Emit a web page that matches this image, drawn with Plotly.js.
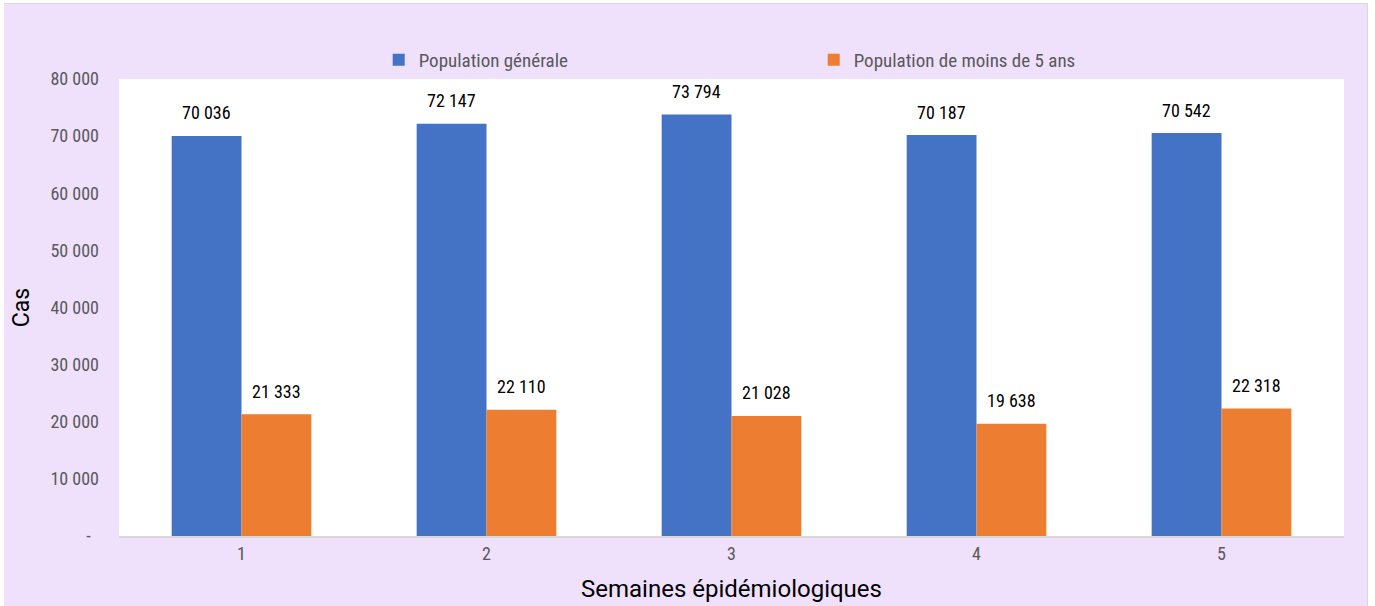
<!DOCTYPE html>
<html>
<head>
<meta charset="utf-8">
<script src="https://cdn.plot.ly/plotly-3.0.1.min.js"></script>
<style>
html,body{margin:0;padding:0;background:#ffffff;}
#wrap{position:absolute;left:4px;top:3px;width:1364px;height:603px;border-top:1px solid #d9d9d9;border-right:1px solid #d9d9d9;box-sizing:border-box;}
#chart{width:1363px;height:602px;}
</style>
</head>
<body>
<div id="wrap"><div id="chart"></div></div>
<script>
const categories = ["1", "2", "3", "4", "5"];
const seriesNames = ["Population générale", "Population de moins de 5 ans"];
const generale = [70036, 72147, 73794, 70187, 70542];
const moins5 = [21333, 22110, 21028, 19638, 22318];
const yTickVals = [0, 10000, 20000, 30000, 40000, 50000, 60000, 70000, 80000];

const FONT = "'Roboto Condensed', 'Liberation Sans Narrow', 'Arial Narrow', Roboto, sans-serif";
function fmt(v){ return v === 0 ? "-\u00a0\u00a0" : String(v).replace(/\B(?=(\d{3})+(?!\d))/g, " "); }
const yTickText = yTickVals.map(fmt);

const traces = [
  {type:'bar', name: seriesNames[0], x: categories, y: generale, marker:{color:'#4472C4'}, hoverinfo:'none'},
  {type:'bar', name: seriesNames[1], x: categories, y: moins5, marker:{color:'#ED7D31'}, hoverinfo:'none'}
];

const annotations = [];
[generale, moins5].forEach((arr, si) => {
  arr.forEach((v, i) => {
    annotations.push({
      x: i, y: v, xref:'x', yref:'y',
      text: fmt(v), showarrow:false,
      xshift: si === 0 ? -35 : 35, yshift: 23,
      font:{family:FONT, size:18, color:'#000000'}
    });
  });
});

const layout = {
  width: 1363, height: 602,
  paper_bgcolor:'#EFE0FC', plot_bgcolor:'#ffffff',
  margin:{l:115, r:23, t:75, b:70},
  barmode:'group', bargap:0.43, bargroupgap:0,
  showlegend:true,
  legend:{orientation:'h', x:0.212, xanchor:'left', y:1.0, yanchor:'bottom',
          entrywidth:390, entrywidthmode:'pixels', itemwidth:30,
          font:{family:FONT, size:19, color:'#595959'}, bgcolor:'rgba(0,0,0,0)'},
  xaxis:{type:'category', range:[-0.5, 4.5], showgrid:false, zeroline:false, showline:true, linecolor:'#d9d9d9', linewidth:2,
         ticks:'', tickfont:{family:FONT, size:18, color:'#595959'},
         title:{text:'Semaines épidémiologiques', font:{family:'Roboto, sans-serif', size:24, color:'#000000'}, standoff:18}},
  yaxis:{range:[0, 80000], tickvals:yTickVals, ticktext:yTickText, showgrid:false, zeroline:false, showline:false,
         ticks:'', ticklabelstandoff:19, tickfont:{family:FONT, size:18, color:'#595959'},
         title:{text:'Cas', font:{family:'Roboto, sans-serif', size:23, color:'#000000'}, standoff:14}},
  annotations: annotations,
  font:{family:FONT}
};

Plotly.newPlot('chart', traces, layout, {displayModeBar:false, staticPlot:true});
</script>
</body>
</html>
